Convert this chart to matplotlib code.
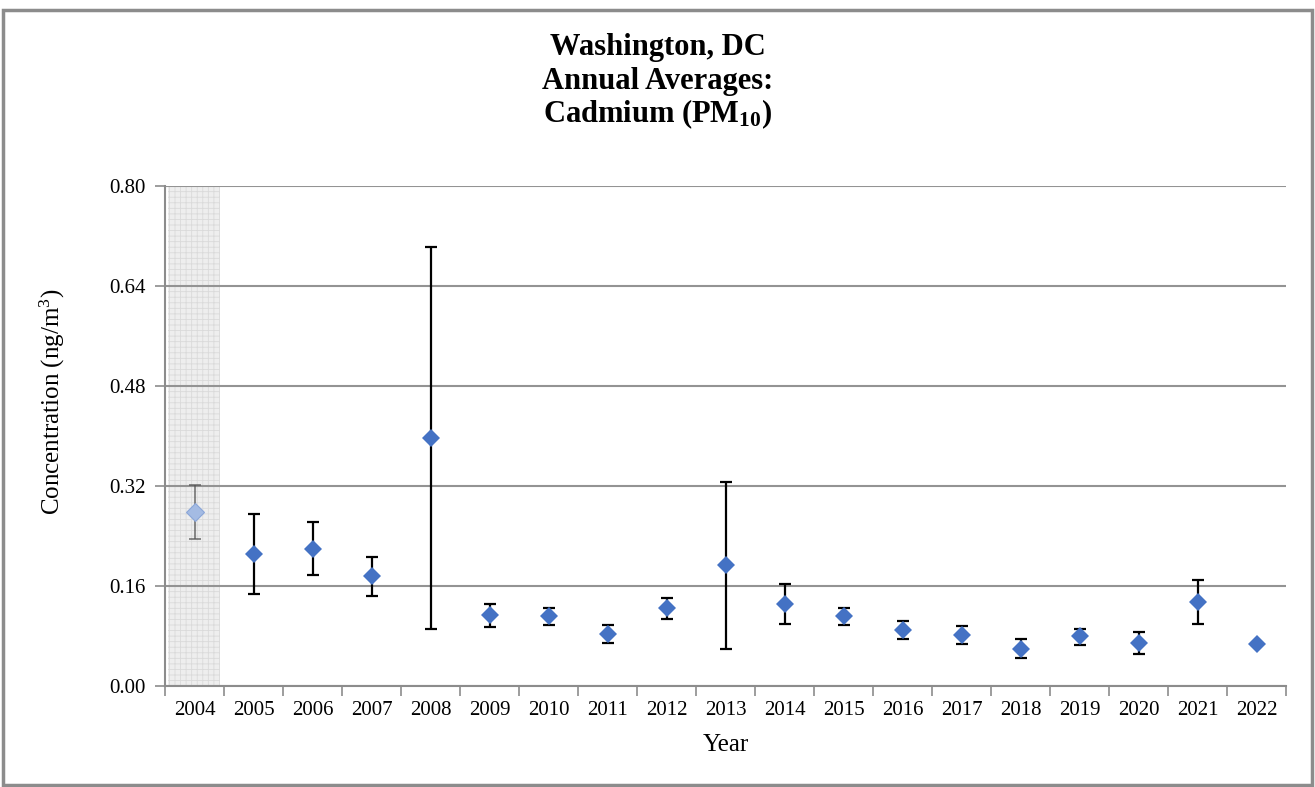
import matplotlib
matplotlib.use("Agg")
import matplotlib.pyplot as plt
from matplotlib.patches import Rectangle
import numpy as np

years = ["2004", "2005", "2006", "2007", "2008", "2009", "2010", "2011", "2012", "2013",
         "2014", "2015", "2016", "2017", "2018", "2019", "2020", "2021", "2022"]
means = [0.278, 0.211, 0.220, 0.176, 0.397, 0.113, 0.112, 0.083, 0.125, 0.193,
         0.132, 0.112, 0.090, 0.082, 0.060, 0.080, 0.069, 0.134, 0.067]
upper = [0.321, 0.275, 0.263, 0.206, 0.702, 0.132, 0.125, 0.097, 0.141, 0.326,
         0.163, 0.125, 0.104, 0.096, 0.075, 0.092, 0.086, 0.169, 0.067]
lower = [0.236, 0.147, 0.178, 0.144, 0.092, 0.094, 0.097, 0.069, 0.108, 0.059,
         0.100, 0.098, 0.076, 0.068, 0.045, 0.066, 0.051, 0.099, 0.067]
yticks = [0.00, 0.16, 0.32, 0.48, 0.64, 0.80]

plt.rcParams['font.family'] = ['Liberation Serif', 'DejaVu Serif']
plt.rcParams['mathtext.fontset'] = 'custom'
plt.rcParams['mathtext.rm'] = 'Liberation Serif'
plt.rcParams['mathtext.bf'] = 'Liberation Serif:bold'
plt.rcParams['mathtext.it'] = 'Liberation Serif:italic'
plt.rcParams['mathtext.default'] = 'regular'
plt.rcParams['hatch.linewidth'] = 0.6

W, H = 1315, 787
fig = plt.figure(figsize=(W / 100, H / 100), dpi=100)
fig.patch.set_facecolor('white')

# outer frame
fig.patches.append(Rectangle((3 / W, 2 / H), 1309 / W, 775 / H, transform=fig.transFigure,
                             fill=False, edgecolor='#8c8c8c', linewidth=2.5))

ax = fig.add_axes([165 / W, 101 / H, 1121 / W, 500 / H])
x = np.arange(len(years))
m = np.array(means); up = np.array(upper); lo = np.array(lower)

ax.set_xlim(-0.5, len(years) - 0.5)
ax.set_ylim(0, 0.80)

# shaded 2004 region
ax.axvspan(-0.45, 0.43, facecolor='#eeeeee', edgecolor='#dadada', hatch='+++', linewidth=0, zorder=0.5)

ax.set_yticks(yticks)
ax.set_yticklabels([f"{v:.2f}" for v in yticks], fontsize=15)
ax.yaxis.grid(True, color='#939393', linewidth=1.5, zorder=1)
ax.set_axisbelow(True)

ax.set_xticks(x)
ax.set_xticklabels(years, fontsize=15)
ax.tick_params(axis='x', which='major', length=0, pad=11)
ax.set_xticks(np.arange(-0.5, len(years), 1.0), minor=True)
ax.tick_params(axis='x', which='minor', length=7, width=1.2, color='#8c8c8c', direction='out')
ax.tick_params(axis='y', length=7, width=1.2, color='#8c8c8c', pad=7)

for s in ['top', 'right']:
    ax.spines[s].set_visible(False)
for s in ['left', 'bottom']:
    ax.spines[s].set_color('#8c8c8c')
    ax.spines[s].set_linewidth(1.5)

# 2004 (faded)
ax.errorbar(x[:1], m[:1], yerr=[m[:1] - lo[:1], up[:1] - m[:1]], fmt='none',
            ecolor='#555555', elinewidth=1.2, capsize=4, capthick=1.2, linestyle=':', zorder=3,
            alpha=0.8)
ax.plot(x[:1], m[:1], marker='D', markersize=9.5, color='#a4bbe3', markeredgecolor='#8aa6d8',
        markeredgewidth=0.8, linestyle='none', zorder=4)

# others
xs = x[1:]
ax.errorbar(xs, m[1:], yerr=[m[1:] - lo[1:], up[1:] - m[1:]], fmt='none',
            ecolor='black', elinewidth=1.6, capsize=4, capthick=1.6, zorder=3)
ax.plot(xs, m[1:], marker='D', markersize=9.5, color='#4472C4', linestyle='none',
        markeredgewidth=0, zorder=4)

ax.set_xlabel('Year', fontsize=18, labelpad=10)
ax.set_ylabel('Concentration (ng/m$^{3}$)', fontsize=18)
ax.yaxis.set_label_coords(-0.087, 0.568)

fig.text(0.5, 1 - 55 / H, 'Washington, DC', ha='center', va='baseline', fontsize=22, fontweight='bold')
fig.text(0.5, 1 - 89 / H, 'Annual Averages:', ha='center', va='baseline', fontsize=22, fontweight='bold')
fig.text(0.5, 1 - 122 / H, r'Cadmium (PM$_{\mathbf{10}}$)', ha='center', va='baseline', fontsize=22,
         fontweight='bold')

fig.savefig('out.png', dpi=100)
